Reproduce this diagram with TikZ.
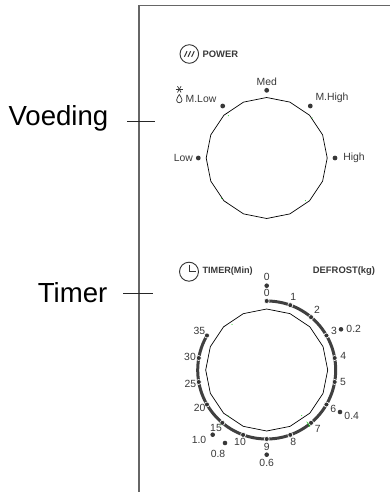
\documentclass[tikz,border=0pt]{standalone}
\usepackage{fontspec}
\setmainfont{Liberation Sans}
\usetikzlibrary{calc}
\tikzset{
  panel/.style={draw=black!60,line width=1.2pt},
  leader/.style={draw=black!85,line width=0.8pt},
  dial/.style={draw=black,line width=0.7pt},
  scale line/.style={draw=black!75,line width=3pt},
  icon/.style={draw=black!80,line width=0.8pt},
  lbl/.style={text=black!78,font=\fontsize{10.4}{11}\selectfont,inner sep=0pt},
  head/.style={text=black!78,font=\fontsize{9.4}{10}\selectfont\bfseries,inner sep=0pt},
  big/.style={text=black,font=\fontsize{27.6}{28}\selectfont,inner sep=0pt},
  dot/.style={circle,fill=black!78,inner sep=0pt,minimum size=4.8pt},
  tick/.style={circle,fill=black!80,draw=white,line width=0.6pt,inner sep=0pt,minimum size=5pt},
  speck/.style={draw=green!80!black,line width=0.5pt}
}
\begin{document}
\begin{tikzpicture}[x=1pt,y=-1pt]
\useasboundingbox (0,0) rectangle (390,492);
\coordinate (panelT) at (139,5.5);
\coordinate (panelR) at (390,5.5);
\coordinate (panelB) at (139,492);
\draw[panel] (panelR) -- (panelT) -- (panelB);
\node[big,anchor=base east] (voeding) at (108.5,125) {Voeding};
\node[big,anchor=base east] (timer) at (107.5,302.5) {Timer};
\coordinate (voedingL) at (127,121.3);
\coordinate (voedingR) at (155,121.3);
\coordinate (timerL) at (123,293.7);
\coordinate (timerR) at (153,293.7);
\draw[leader] (voedingL) -- (voedingR);
\draw[leader] (timerL) -- (timerR);

\coordinate (power) at (266.7,158);
\coordinate (timing) at (266.7,370);
\draw[dial] ($(power)+(90:-60.5)$) \foreach \a in {22.5,45,...,337.5} {-- ($(power)+(90+\a:-60.5)$)} -- cycle;
\draw[dial] ($(timing)+(90:-61)$) \foreach \a in {22.5,45,...,337.5} {-- ($(timing)+(90+\a:-61)$)} -- cycle;

\node[circle,draw=black!80,line width=0.9pt,minimum size=18.6pt,inner sep=0pt] (poweric) at (189.3,54) {};
\foreach \dx in {-3.6,0,3.6}
  \draw[icon,line width=1pt] ($(poweric)+(\dx+1.3,-2.8)$) .. controls +(-2.6,1.6) and +(2.6,-1.2) .. ($(poweric)+(\dx-1.3,2.8)$);
\node[head,anchor=west] (powerlbl) at (202.4,54) {POWER};
\node[circle,draw=black!80,line width=0.9pt,minimum size=19pt,inner sep=0pt] (clock) at (189,271.7) {};
\draw[icon] (clock.center) ++(0,-7) -- (clock.center) -- ++(6.5,0);
\node[head,anchor=west,font=\fontsize{9.1}{10}\selectfont\bfseries] (timerlbl) at (202.4,270.7) {TIMER(Min)};
\node[head] (defrost) at (344,270.7) {DEFROST(kg)};

\node[lbl] (med) at (266.7,81.7) {Med};
\node[dot] (meddot) at (266.7,90.3) {};
\node[lbl] (mhigh) at (332,98.3) {M.High};
\node[dot] (mhighdot) at (310.3,106) {};
\node[lbl] (high) at (354,158) {High};
\node[dot] (highdot) at (335,158) {};
\node[lbl] (low) at (183.3,158) {Low};
\node[dot] (lowdot) at (198.3,158) {};
\node[lbl] (mlow) at (201,99) {M.Low};
\node[dot] (mlowdot) at (222.7,106) {};
\coordinate (snow) at (179.3,89.3);
\foreach \a in {0,60,120}
  \draw[icon,line width=0.7pt] ($(snow)+(\a:-3.6)$) -- ($(snow)+(\a:3.6)$);
\draw[icon,line width=0.7pt] (179.3,94.5) .. controls (178.6,96.5) and (176.6,97.5) .. (176.6,100)
  .. controls (176.6,103.6) and (182,103.6) .. (182,100) .. controls (182,97.5) and (180,96.5) .. (179.3,94.5) -- cycle;

\draw[scale line] ($(timing)+(90:-69)$) arc[start angle=-90,end angle=210,radius=69];
\foreach \a/\n in {90/s0,70/s1,50/s2,30/s3,10/s4,-10/s5,-30/s6,-50/s7,-70/s8,-90/s9,-110/s10,-130/s15,-150/s20,-170/s25,170/s30,150/s35}
  \node[tick] (\n) at ($(timing)+(-\a:69)$) {};
\foreach \n/\t/\x/\y in {l0/0/266.7/293,l1/1/293.3/297.3,l2/2/317/310,l3/3/334/331,l4/4/343.3/356.3,l5/5/343/382.3,l6/6/333.3/409,l7/7/317.7/429,l8/8/293.3/442.3,l9/9/266.7/446.7,l10/10/240/441.7,l15/15/216/428,l20/20/199.7/408,l25/25/190.3/383.7,l30/30/190/357.3,l35/35/199.3/330.7,kg0/0/266.7/277.3,kg2/0.2/353.7/329.3,kg4/0.4/351.7/415.7,kg6/0.6/266.7/463.3,kg8/0.8/218/454.3,kg10/1.0/199/440.3}
  \node[lbl] (\n) at (\x,\y) {\t};
\foreach \n/\x/\y in {d0/266.7/285.7,d2/341/329.3,d4/340/412,d6/266.7/454.7,d8/225/443,d10/212.7/434.7}
  \node[dot,minimum size=4.6pt] (\n) at (\x,\y) {};

\foreach \x/\y in {228.3/115.7,312/118,221.7/198.3,305.3/200.7,232/324.3,228.3/416,301.7/415.7,220/425}
  \fill[green!80!black] (\x,\y) circle (0.5);
\draw[speck] (306.7,421.7) -- (310,426.7);
\end{tikzpicture}
\end{document}
